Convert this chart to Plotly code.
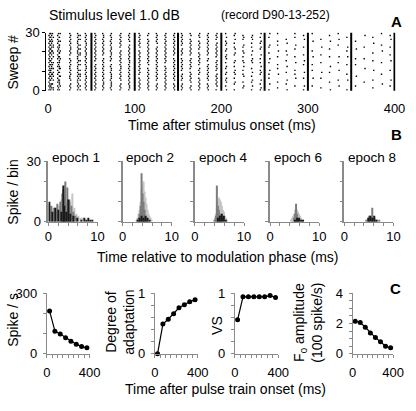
import plotly.graph_objects as go

W, H = 416, 411

# ---------------- Panel A: raster data ----------------
PULSE_ONSET_MS = [0, 10, 20, 30, 40, 50, 60, 70, 80, 90,
                  100, 110, 120, 130, 140, 150, 160, 170, 180, 190,
                  200, 210, 220, 230, 240, 250, 260, 270, 280, 290,
                  300, 310, 320, 330, 340, 350, 360, 370, 380, 390]
EPOCH_EDGES_MS = [50, 100, 150, 200, 250, 300, 350, 400]
# one string per pulse cycle, one character per sweep (bottom -> top);
# '.' = no spike, digit = spike phase (ms) within that cycle
RASTER_CYCLE = [0, 0, 0, 1, 1, 2, 3, 3, 4,
                5, 6, 7, 8, 9,
                10, 11, 12, 13, 14,
                15, 16, 17, 18, 19,
                20, 21, 22, 23, 24,
                25, 26, 27, 28, 29,
                30, 31, 32, 33, 34,
                35, 36, 37, 38, 39]
RASTER_PATTERN = [
    "1212121212 1212121212 1212121212",
    "3434.34343 3443434.43 4343434343",
    "66.5.6.656 .6.56..6.6 5.66.5.6.5",
    "1213121312 1312131213 1213121312",
    "3.4.33.4.3 .43.3.43.3 4.33.4.3.4",
    "5656.65565 6556565.56 5665656565",
    "4545445454 5445454454 4545445454",
    "7.7..7.77. 7..7.7..77 .7.7..7.7.",
    "4343434434 3443434344 3434434343",
    "4545454545 4545.45454 5454545454",
    "3434434343 4343434.34 3434343443",
    "3233323332 3323.23233 2332323323",
    "3434.43434 3443434343 4.34343434",
    "3443434343 4343443434 3434.43434",
    "5656565.56 5656565656 5.65656565",
    "6565656565 65.6565656 5656565.56",
    "5656.56565 6565656565 656.656565",
    "5656565656 565.565656 5656565656",
    "6565.65656 5656565.56 5656565656",
    "4545.4545. 4545454.45 45.4545454",
    "545.545454 .454545.45 4545454.54",
    "4545454.45 45.4545454 .45454.545",
    "5454.54545 4545.45.45 4545454545",
    "4.5454545. 454545.454 54545.4545",
    "6.5.656.56 .56.5.656. 56.565.6.5",
    "5..56.5.65 6.5.56..56 .65.5.6.56",
    ".56.5..65. 5.6.65.5.6 5.56..565.",
    "5.6.56.5.6 .5..656.5. 6.5.5.656.",
    "56.5.6..56 5.6.5.5.6. .56.56.5.6",
    "5..6..5.5. 6...5.6..5 ..56...5.6",
    ".5..5...6. .5.5...5.. 6..5.5...5",
    "6..5.6...5 ..6..5..6. 5...6.5...",
    "..5...6.5. 5...6..5.. .5.6...5.5",
    "5.6...5..6 ...5.6..5. ..5...6.5.",
    "..5...6... 5..5...6.. 5....6...5",
    ".5....5..6 ....5...5. ..6...5...",
    "6...5....5 ..6....5.. .5...6..5.",
    "..6..5.... 6...5..6.. ...5..6..5",
    "5....6..5. ...5...6.. 5.6....5..",
    "..5....6.. ...5..5... .6...5....",
    "....5..... .6....5... ..5.....6.",
    ".5...5.... 6....5...5 ....6..5..",
    "...6....5. ....5..... 6..5.....5",
    "..5..6.... 5....6..5. ..5...6.5.",
]

# ---------------- Panel B: period histograms (0.2 ms bins) ----------------
EPOCH_NAMES = ["epoch 1", "epoch 2", "epoch 4", "epoch 6", "epoch 8"]
BIN_MS = 0.2
E1_LIGHT_T = [0.0, 0.4, 1.0, 1.6, 2.2, 2.6, 3.2, 3.6, 4.0, 4.4, 4.8, 5.2, 5.6, 6.0, 6.4, 6.8]
E1_LIGHT_N = [9, 6, 7, 5, 8, 11, 12, 9, 8, 10, 14, 7, 4, 3, 2, 2]
E1_MID_T = [0.6, 1.2, 1.8, 2.4, 2.8, 3.0, 3.4, 3.8, 4.2, 4.6, 5.0, 5.4]
E1_MID_N = [8, 7, 9, 10, 14, 16, 20, 17, 11, 8, 5, 3]
E1_DARK_T = [0.2, 0.8, 1.4, 2.0, 2.6, 3.0, 3.2, 3.6, 4.0, 4.4, 5.0, 5.8, 6.6, 7.2, 7.6, 8.0, 8.4, 8.8]
E1_DARK_N = [10, 5, 7, 6, 5, 18, 8, 5, 11, 4, 3, 2, 1, 2, 1, 2, 1, 1]

E2_LIGHT_T = [2.8, 3.0, 3.2, 3.4, 3.6, 3.8, 4.0, 4.2, 4.4, 4.6, 4.8, 5.0, 5.2, 5.4, 5.6, 5.8]
E2_LIGHT_N = [1, 2, 4, 6, 10, 16, 18, 20, 15, 12, 9, 6, 4, 3, 2, 1]
E2_MID_T = [3.2, 3.4, 3.6, 3.8, 4.0, 4.2, 4.4, 4.6, 4.8]
E2_MID_N = [2, 4, 8, 24, 14, 10, 6, 3, 2]
E2_DARK_T = [3.0, 3.4, 3.8, 4.2, 4.6, 5.0, 5.4]
E2_DARK_N = [1, 2, 3, 2, 3, 2, 1]

E4_LIGHT_T = [3.8, 4.0, 4.2, 4.4, 4.6, 4.8, 5.0, 5.2, 5.4, 5.6, 5.8, 6.0, 6.2, 6.4]
E4_LIGHT_N = [1, 2, 4, 7, 10, 12, 11, 10, 8, 6, 5, 3, 2, 1]
E4_MID_T = [4.0, 4.2, 4.4, 4.6, 4.8, 5.0, 5.2, 5.4]
E4_MID_N = [1, 3, 18, 8, 6, 4, 3, 2]
E4_DARK_T = [4.6, 5.0, 5.4, 5.8, 6.2]
E4_DARK_N = [2, 3, 4, 3, 1]

E6_LIGHT_T = [4.2, 4.4, 4.6, 4.8, 5.0, 5.2, 5.4, 5.6, 5.8, 6.0, 6.2, 6.4, 6.6]
E6_LIGHT_N = [1, 2, 3, 4, 6, 7, 6, 5, 4, 3, 2, 1, 1]
E6_MID_T = [4.8, 5.0, 5.2, 5.4, 5.6]
E6_MID_N = [2, 4, 9, 4, 2]
E6_DARK_T = [5.0, 5.4, 5.8, 6.2, 6.6]
E6_DARK_N = [1, 2, 2, 1, 1]

E8_LIGHT_T = [4.6, 4.8, 5.0, 5.2, 5.4, 5.6, 5.8, 6.0, 6.2, 6.4]
E8_LIGHT_N = [1, 2, 3, 2, 3, 2, 2, 2, 1, 1]
E8_MID_T = [4.4, 5.0, 5.6, 6.0, 6.6, 7.0]
E8_MID_N = [1, 3, 7, 2, 1, 1]
E8_DARK_T = [4.8, 5.2, 5.6, 6.0, 6.4]
E8_DARK_N = [2, 3, 2, 3, 1]

# ---------------- Panel C: epoch summary ----------------
EPOCH_CENTER_MS = [25, 75, 125, 175, 225, 275, 325, 375]
RATE_SPS = [212, 112, 98, 80, 62, 48, 36, 30]
ADAPTATION = [0.0, 0.49, 0.57, 0.66, 0.76, 0.81, 0.86, 0.89]
VS = [0.56, 0.94, 0.94, 0.94, 0.94, 0.94, 0.96, 0.93]
F0_AMP = [2.15, 2.07, 1.75, 1.38, 1.07, 0.8, 0.5, 0.4]

FONT = "Liberation Sans, Arial, sans-serif"
LIGHT, MID, DARK = "#c4c4c4", "#7c7c7c", "#1a1a1a"
AX = "#8a8a8a"
TITLE = 14
TICK = 13


def fx(px):
    return px / W


def fy(py):
    return 1 - py / H


fig = go.Figure()
layout = dict(width=W, height=H, margin=dict(l=0, r=0, t=0, b=0),
              paper_bgcolor="white", plot_bgcolor="white",
              showlegend=False, barmode="overlay",
              font=dict(family=FONT, size=TICK, color="black"))

# ---- Panel A ----
rx, ry = [], []
for cyc, pat in zip(RASTER_CYCLE, RASTER_PATTERN):
    for sweep, ch in enumerate(pat.replace(" ", "")):
        if ch != ".":
            rx.append(PULSE_ONSET_MS[cyc] + int(ch))
            ry.append(sweep + 0.5)
fig.add_trace(go.Scatter(x=rx, y=ry, mode="markers", xaxis="x", yaxis="y",
                         marker=dict(size=1.4, color="black", symbol="square",
                                     line=dict(width=0))))
ex, ey = [], []
for e in EPOCH_EDGES_MS:
    ex += [e, e, None]
    ey += [-0.6, 30, None]
fig.add_trace(go.Scatter(x=ex, y=ey, mode="lines", xaxis="x", yaxis="y",
                         line=dict(color="black", width=2), cliponaxis=False))
layout["xaxis"] = dict(domain=[fx(44), fx(406)], range=[-2, 401], anchor="y",
                       showgrid=False, zeroline=False, showline=False,
                       tickvals=[0, 100, 200, 300, 400], ticks="",
                       ticklabelstandoff=8, tickfont=dict(size=TICK))
layout["yaxis"] = dict(domain=[fy(87), fy(26.5)], range=[0, 30], anchor="x",
                       showgrid=False, zeroline=False, showline=True,
                       linecolor="black", linewidth=1,
                       ticks="outside", ticklen=3, tickcolor="black",
                       tickvals=[0, 10, 20, 30], ticktext=["0", "", "", "30"],
                       tickfont=dict(size=TICK))

# ---- Panel B ----
B_START = [46, 123, 198, 276, 353]
B_W = 51
hist_sets = [
    (E1_LIGHT_T, E1_LIGHT_N, E1_MID_T, E1_MID_N, E1_DARK_T, E1_DARK_N),
    (E2_LIGHT_T, E2_LIGHT_N, E2_MID_T, E2_MID_N, E2_DARK_T, E2_DARK_N),
    (E4_LIGHT_T, E4_LIGHT_N, E4_MID_T, E4_MID_N, E4_DARK_T, E4_DARK_N),
    (E6_LIGHT_T, E6_LIGHT_N, E6_MID_T, E6_MID_N, E6_DARK_T, E6_DARK_N),
    (E8_LIGHT_T, E8_LIGHT_N, E8_MID_T, E8_MID_N, E8_DARK_T, E8_DARK_N),
]
annotations = []
for i, (hs, x0) in enumerate(zip(hist_sets, B_START)):
    n = i + 2
    xa, ya = f"x{n}", f"y{n}"
    for (t, c), col in zip([(hs[0], hs[1]), (hs[2], hs[3]), (hs[4], hs[5])],
                           [LIGHT, MID, DARK]):
        fig.add_trace(go.Bar(x=t, y=c, width=BIN_MS, offset=0, xaxis=xa, yaxis=ya,
                             marker=dict(color=col, line=dict(width=0))))
    layout[f"xaxis{n}"] = dict(domain=[fx(x0), fx(x0 + B_W)], range=[0, 10], anchor=ya,
                               showgrid=False, zeroline=False, showline=True,
                               linecolor=AX, linewidth=1, ticks="outside", ticklen=3,
                               tickcolor=AX, tickvals=[0, 2, 4, 6, 8, 10],
                               ticktext=["0", "", "", "", "", "10"],
                               ticklabelstandoff=0, tickfont=dict(size=TICK))
    layout[f"yaxis{n}"] = dict(domain=[fy(223), fy(160)], range=[0, 30], anchor=xa,
                               showgrid=False, zeroline=False, showline=True,
                               linecolor=AX, linewidth=1.5, ticks="outside", ticklen=3,
                               tickcolor=AX, tickvals=[0, 10, 20, 30],
                               ticktext=(["0", "", "", "30"] if i == 0 else ["", "", "", ""]),
                               tickfont=dict(size=TICK))
    annotations.append(dict(text=EPOCH_NAMES[i], x=fx(x0 + 2), y=fy(156), xref="paper",
                            yref="paper", xanchor="left", yanchor="middle",
                            showarrow=False, font=dict(size=13.5)))

# ---- Panel C ----
C_DOM = [(44.5, 88.8), (156.5, 201), (239.5, 284.5), (361.7, 403.7)]
C_SERIES = [RATE_SPS, ADAPTATION, VS, F0_AMP]
C_YRANGE = [[0, 300], [0, 1], [0, 1], [0, 4]]
C_YTICKS = [([0, 100, 200, 300], ["0", "", "", "300"]),
            ([0, 0.2, 0.4, 0.6, 0.8, 1], ["0", "", "", "", "", "1"]),
            ([0, 0.2, 0.4, 0.6, 0.8, 1], ["0", "", "", "", "", "1"]),
            ([0, 0.5, 1, 1.5, 2, 2.5, 3, 3.5, 4], ["0", "", "", "", "2", "", "", "", "4"])]
for j, (dom, ser) in enumerate(zip(C_DOM, C_SERIES)):
    n = j + 7
    xa, ya = f"x{n}", f"y{n}"
    fig.add_trace(go.Scatter(x=EPOCH_CENTER_MS, y=ser, mode="lines+markers",
                             xaxis=xa, yaxis=ya, cliponaxis=False,
                             line=dict(color="black", width=1.2),
                             marker=dict(color="black", size=5)))
    layout[f"xaxis{n}"] = dict(domain=[fx(dom[0]), fx(dom[1])], range=[0, 400], anchor=ya,
                               showgrid=False, zeroline=False, showline=True,
                               linecolor=AX, linewidth=1, ticks="outside", ticklen=3,
                               tickcolor=AX,
                               tickvals=[0, 50, 100, 150, 200, 250, 300, 350, 400],
                               ticktext=["0", "", "", "", "", "", "", "", "400"],
                               ticklabelstandoff=4, tickfont=dict(size=TICK))
    layout[f"yaxis{n}"] = dict(domain=[fy(360), fy(297)], range=C_YRANGE[j], anchor=xa,
                               showgrid=False, zeroline=False, showline=True,
                               linecolor=AX, linewidth=1, ticks="outside", ticklen=3,
                               tickcolor=AX, tickvals=C_YTICKS[j][0],
                               ticktext=C_YTICKS[j][1], ticklabelstandoff=3,
                               tickfont=dict(size=TICK))


def ann(text, x, y, size=TITLE, angle=0, anchor="center", bold=False):
    annotations.append(dict(text=(f"<b>{text}</b>" if bold else text), x=fx(x), y=fy(y),
                            xref="paper", yref="paper", xanchor=anchor, yanchor="middle",
                            textangle=angle, showarrow=False, font=dict(size=size)))


ann("Stimulus level 1.0 dB", 45, 8, anchor="left")
ann("(record D90-13-252)", 223, 8, size=12, anchor="left")
ann("A", 407, 15, size=15, bold=True)
ann("B", 407, 132, size=15, bold=True)
ann("C", 406, 292, size=15, bold=True)
ann("Sweep #", 9, 57, angle=-90)
ann("Time after stimulus onset (ms)", 226, 122)
ann("Spike / bin", 9, 192, angle=-90)
ann("Time relative to modulation phase (ms)", 222, 259)
ann("Spike / s", 9, 325, angle=-90)
ann("Degree of<br>adaptation", 120, 327, angle=-90)
ann("VS", 221, 331, angle=-90)
ann("F<sub>0</sub> amplitude<br>(100 spike/s)", 315, 328, angle=-90)
ann("Time after pulse train onset (ms)", 230, 396)

layout["annotations"] = annotations
fig.update_layout(**layout)
fig.write_html("out.html", config={"displayModeBar": False},
               post_script="document.body.style.margin='0';"
                           "document.documentElement.style.overflow='hidden';"
                           "document.body.style.overflow='hidden';")
